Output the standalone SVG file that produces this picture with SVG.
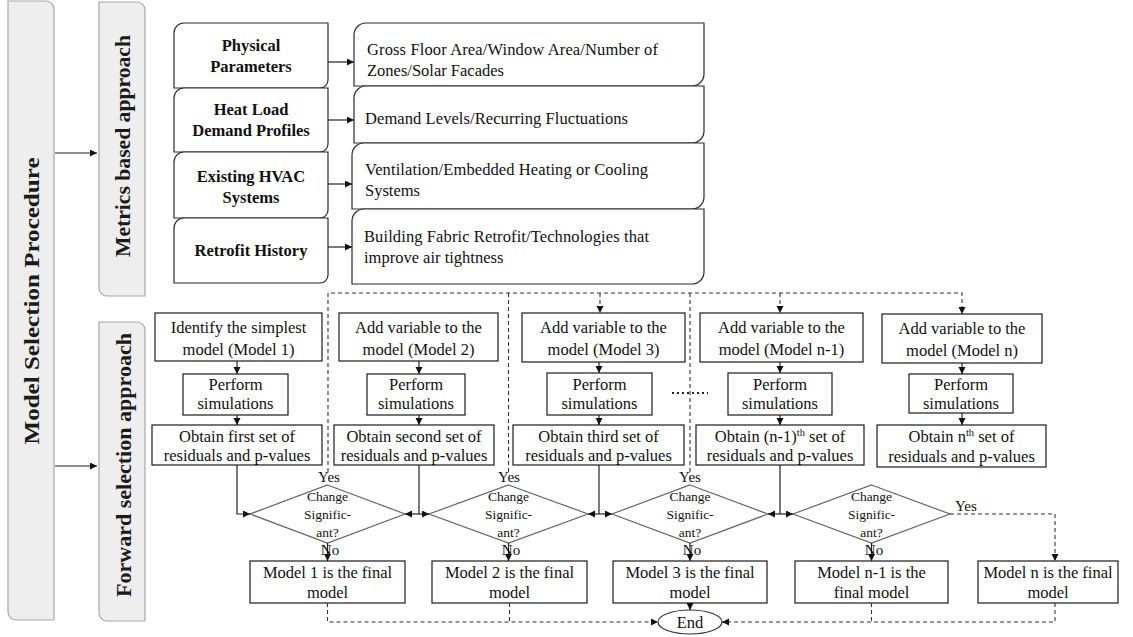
<svg xmlns="http://www.w3.org/2000/svg" width="1133" height="637" viewBox="0 0 1133 637">
<style>
.panel{fill:#eeeeee;stroke:#a8a8a8;stroke-width:1.2}
.box{fill:#fff;stroke:#1a1a1a;stroke-width:1.2}
.rbox{fill:#fff;stroke:#2a2a2a;stroke-width:1.2}
.dia{fill:#fff;stroke:#666;stroke-width:1.2}
.t{font-family:"Liberation Serif","Times New Roman",serif;font-size:16.5px;fill:#111}
.m{text-anchor:middle}
.b{font-weight:bold}
.pt{font-family:"Liberation Serif","Times New Roman",serif;font-weight:bold;font-size:21px;fill:#1a1a1a;text-anchor:middle}
.s{font-size:13.5px}
.yn{font-size:15px}
.c{fill:none;stroke:#222;stroke-width:1.2}
.d{fill:none;stroke:#333;stroke-width:1.1;stroke-dasharray:4 3}
</style>
<defs>
<marker id="ah" markerUnits="userSpaceOnUse" markerWidth="8" markerHeight="8" refX="7" refY="3.5" orient="auto">
<path d="M0,0 L7,3.5 L0,7 Z" fill="#111"/>
</marker>
</defs>

<g id="panel-model-selection">
<path class="panel" d="M8,1 H46 A8,8 0 0 1 54,9 V620 H16 A8,8 0 0 1 8,612 Z"/>
<text class="pt" transform="translate(39,301) rotate(-90)" textLength="287" lengthAdjust="spacingAndGlyphs">Model Selection Procedure</text>
</g>
<g id="panel-metrics">
<path class="panel" d="M99,2 H137 A8,8 0 0 1 145,10 V296 H107 A8,8 0 0 1 99,288 Z"/>
<text class="pt" transform="translate(130,146) rotate(-90)" textLength="222" lengthAdjust="spacingAndGlyphs">Metrics based approach</text>
</g>
<g id="panel-forward">
<path class="panel" d="M99,322 H137 A8,8 0 0 1 145,330 V621 H107 A8,8 0 0 1 99,613 Z"/>
<text class="pt" transform="translate(131,465) rotate(-90)" textLength="264" lengthAdjust="spacingAndGlyphs">Forward selection approach</text>
</g>

<g id="physical-parameters">
<path class="rbox" d="M174,33 A10,10 0 0 1 184,23 H328 V80 A8,8 0 0 1 320,88 H174 Z"/>
<text class="t b m" x="251" y="51">Physical</text>
<text class="t b m" x="251" y="72">Parameters</text>
</g>
<g id="heat-load">
<path class="rbox" d="M174,98 A10,10 0 0 1 184,88 H328 V144 A8,8 0 0 1 320,152 H174 Z"/>
<text class="t b m" x="251" y="115">Heat Load</text>
<text class="t b m" x="251" y="136">Demand Profiles</text>
</g>
<g id="existing-hvac">
<path class="rbox" d="M174,162 A10,10 0 0 1 184,152 H328 V210 A8,8 0 0 1 320,218 H174 Z"/>
<text class="t b m" x="251" y="182">Existing HVAC</text>
<text class="t b m" x="251" y="203">Systems</text>
</g>
<g id="retrofit-history">
<path class="rbox" d="M174,228 A10,10 0 0 1 184,218 H328 V275 A8,8 0 0 1 320,283 H174 Z"/>
<text class="t b m" x="251" y="256">Retrofit History</text>
</g>

<g id="gross-floor-area">
<path class="rbox" d="M354,35 A12,12 0 0 1 366,23 H704 V74 A12,12 0 0 1 692,86 H354 Z"/>
<text class="t" x="367" y="55" textLength="291" lengthAdjust="spacing">Gross Floor Area/Window Area/Number of</text>
<text class="t" x="367" y="76">Zones/Solar Facades</text>
</g>
<g id="demand-levels">
<path class="rbox" d="M354,98 A12,12 0 0 1 366,86 H704 V131 A12,12 0 0 1 692,143 H354 Z"/>
<text class="t" x="365" y="124" textLength="263" lengthAdjust="spacing">Demand Levels/Recurring Fluctuations</text>
</g>
<g id="ventilation">
<path class="rbox" d="M352,155 A12,12 0 0 1 364,143 H704 V197 A12,12 0 0 1 692,209 H352 Z"/>
<text class="t" x="365" y="175" textLength="283" lengthAdjust="spacing">Ventilation/Embedded Heating or Cooling</text>
<text class="t" x="365" y="196">Systems</text>
</g>
<g id="building-fabric">
<path class="rbox" d="M352,221 A12,12 0 0 1 364,209 H704 V272 A12,12 0 0 1 692,284 H352 Z"/>
<text class="t" x="364" y="242" textLength="285" lengthAdjust="spacing">Building Fabric Retrofit/Technologies that</text>
<text class="t" x="364" y="263">improve air tightness</text>
</g>

<!-- Column 1 -->
<g id="add-model-1"><rect class="box" x="155" y="313" width="167" height="48"/>
<text class="t m" x="238.5" y="333">Identify the simplest</text><text class="t m" x="238.5" y="355">model (Model 1)</text></g>
<g id="perform-1"><rect class="box" x="183" y="374" width="105" height="41"/>
<text class="t m" x="235.5" y="390">Perform</text><text class="t m" x="235.5" y="409">simulations</text></g>
<g id="obtain-1"><rect class="box" x="152" y="425" width="170" height="40"/>
<text class="t m" x="237" y="442">Obtain first set of</text><text class="t m" x="237" y="461">residuals and p-values</text></g>

<!-- Column 2 -->
<g id="add-model-2"><rect class="box" x="339" y="313" width="159" height="48"/>
<text class="t m" x="418.5" y="333">Add variable to the</text><text class="t m" x="418.5" y="355">model (Model 2)</text></g>
<g id="perform-2"><rect class="box" x="367" y="374" width="98" height="41"/>
<text class="t m" x="416" y="390">Perform</text><text class="t m" x="416" y="409">simulations</text></g>
<g id="obtain-2"><rect class="box" x="334" y="425" width="160" height="40"/>
<text class="t m" x="414" y="442">Obtain second set of</text><text class="t m" x="414" y="461">residuals and p-values</text></g>

<!-- Column 3 -->
<g id="add-model-3"><rect class="box" x="522" y="313" width="163" height="49"/>
<text class="t m" x="603.5" y="333">Add variable to the</text><text class="t m" x="603.5" y="355">model (Model 3)</text></g>
<g id="perform-3"><rect class="box" x="547" y="373" width="105" height="42"/>
<text class="t m" x="599.5" y="390">Perform</text><text class="t m" x="599.5" y="409">simulations</text></g>
<g id="obtain-3"><rect class="box" x="513" y="425" width="171" height="40"/>
<text class="t m" x="598.5" y="442">Obtain third set of</text><text class="t m" x="598.5" y="461">residuals and p-values</text></g>

<!-- Column 4 -->
<g id="add-model-n-1"><rect class="box" x="700" y="313" width="163" height="49"/>
<text class="t m" x="781.5" y="333">Add variable to the</text><text class="t m" x="781.5" y="355">model (Model n-1)</text></g>
<g id="perform-4"><rect class="box" x="728" y="373" width="104" height="42"/>
<text class="t m" x="780" y="390">Perform</text><text class="t m" x="780" y="409">simulations</text></g>
<g id="obtain-n-1"><rect class="box" x="696" y="425" width="168" height="40"/>
<text class="t m" x="780" y="442">Obtain (n-1)<tspan dy="-6" font-size="10.5">th</tspan><tspan dy="6"> set of</tspan></text><text class="t m" x="780" y="461">residuals and p-values</text></g>

<!-- Column 5 -->
<g id="add-model-n"><rect class="box" x="882" y="314" width="160" height="49"/>
<text class="t m" x="962" y="334">Add variable to the</text><text class="t m" x="962" y="356">model (Model n)</text></g>
<g id="perform-5"><rect class="box" x="909" y="374" width="104" height="39"/>
<text class="t m" x="961" y="390">Perform</text><text class="t m" x="961" y="409">simulations</text></g>
<g id="obtain-n"><rect class="box" x="877" y="425" width="169" height="42"/>
<text class="t m" x="961.5" y="442">Obtain n<tspan dy="-6" font-size="10.5">th</tspan><tspan dy="6"> set of</tspan></text><text class="t m" x="961.5" y="462">residuals and p-values</text></g>

<!-- Diamonds -->
<g id="decision-1"><path class="dia" d="M327.5,485 L405,514 L327.5,543 L250,514 Z"/>
<text class="t m s" x="327.5" y="501">Change</text><text class="t m s" x="327.5" y="519">Signific-</text><text class="t m s" x="327.5" y="537">ant?</text></g>
<g id="decision-2"><path class="dia" d="M508.5,485 L588,514 L508.5,543 L429,514 Z"/>
<text class="t m s" x="508.5" y="501">Change</text><text class="t m s" x="508.5" y="519">Signific-</text><text class="t m s" x="508.5" y="537">ant?</text></g>
<g id="decision-3"><path class="dia" d="M690,485 L768,514 L690,543 L612,514 Z"/>
<text class="t m s" x="690" y="501">Change</text><text class="t m s" x="690" y="519">Signific-</text><text class="t m s" x="690" y="537">ant?</text></g>
<g id="decision-4"><path class="dia" d="M871.5,485 L950,514 L871.5,543 L793,514 Z"/>
<text class="t m s" x="871.5" y="501">Change</text><text class="t m s" x="871.5" y="519">Signific-</text><text class="t m s" x="871.5" y="537">ant?</text></g>

<!-- Final boxes -->
<g id="final-1"><rect class="box" x="250" y="561" width="155" height="42"/>
<text class="t m" x="327.5" y="578">Model 1 is the final</text><text class="t m" x="327.5" y="598">model</text></g>
<g id="final-2"><rect class="box" x="432" y="561" width="155" height="42"/>
<text class="t m" x="509.5" y="578">Model 2 is the final</text><text class="t m" x="509.5" y="598">model</text></g>
<g id="final-3"><rect class="box" x="613" y="561" width="154" height="42"/>
<text class="t m" x="690" y="578">Model 3 is the final</text><text class="t m" x="690" y="598">model</text></g>
<g id="final-n-1"><rect class="box" x="795" y="561" width="153" height="42"/>
<text class="t m" x="871.5" y="578">Model n-1 is the</text><text class="t m" x="871.5" y="598">final model</text></g>
<g id="final-n"><rect class="box" x="978" y="561" width="140" height="42"/>
<text class="t m" x="1048" y="578">Model n is the final</text><text class="t m" x="1048" y="598">model</text></g>

<g id="end"><ellipse cx="690" cy="622" rx="32" ry="12" fill="#fff" stroke="#333" stroke-width="1.2"/>
<text class="t m" x="690" y="628">End</text></g>

<g id="connectors">
<path class="c" d="M55,153 H97" marker-end="url(#ah)"/>
<path class="c" d="M55,466 H97" marker-end="url(#ah)"/>
<path class="c" d="M328,62 H354" marker-end="url(#ah)"/>
<path class="c" d="M328,120 H354" marker-end="url(#ah)"/>
<path class="c" d="M328,184 H352" marker-end="url(#ah)"/>
<path class="c" d="M328,247 H352" marker-end="url(#ah)"/>

<path class="c" d="M237,361 V374" marker-end="url(#ah)"/>
<path class="c" d="M237,415 V425" marker-end="url(#ah)"/>
<path class="c" d="M419,361 V374" marker-end="url(#ah)"/>
<path class="c" d="M419,415 V425" marker-end="url(#ah)"/>
<path class="c" d="M599,362 V373" marker-end="url(#ah)"/>
<path class="c" d="M599,415 V425" marker-end="url(#ah)"/>
<path class="c" d="M780,362 V373" marker-end="url(#ah)"/>
<path class="c" d="M780,415 V425" marker-end="url(#ah)"/>
<path class="c" d="M962,363 V374" marker-end="url(#ah)"/>
<path class="c" d="M962,413 V425" marker-end="url(#ah)"/>

<path class="c" d="M237,465 V514 H250" marker-end="url(#ah)"/>
<path class="c" d="M419,465 V514"/>
<path class="c" d="M419,514 H405" marker-end="url(#ah)"/>
<path class="c" d="M419,514 H429" marker-end="url(#ah)"/>
<path class="c" d="M599,465 V514"/>
<path class="c" d="M599,514 H588" marker-end="url(#ah)"/>
<path class="c" d="M599,514 H612" marker-end="url(#ah)"/>
<path class="c" d="M780,465 V514"/>
<path class="c" d="M780,514 H768" marker-end="url(#ah)"/>
<path class="c" d="M780,514 H793" marker-end="url(#ah)"/>

<path class="c" d="M327.5,543 V561" marker-end="url(#ah)"/>
<path class="c" d="M508.5,543 V561" marker-end="url(#ah)"/>
<path class="c" d="M690,543 V561" marker-end="url(#ah)"/>
<path class="c" d="M871.5,543 V561" marker-end="url(#ah)"/>
<path class="c" d="M690,603 V610" marker-end="url(#ah)"/>

<path class="d" d="M328,472 V293 H962 V314" marker-end="url(#ah)"/>
<path class="d" d="M508.5,472 V293"/>
<path class="d" d="M690,472 V293"/>
<path class="d" d="M600,293 V313" marker-end="url(#ah)"/>
<path class="d" d="M780,293 V313" marker-end="url(#ah)"/>
<path class="d" d="M950,514 H1055 V561" marker-end="url(#ah)"/>

<path class="d" d="M327.5,603 V622 H658" marker-end="url(#ah)"/>
<path class="d" d="M509.5,603 V622"/>
<path class="d" d="M1055,603 V622 H722" marker-end="url(#ah)"/>
<path class="d" d="M871.5,603 V622"/>

<path d="M672,393 H708" fill="none" stroke="#222" stroke-width="2" stroke-dasharray="2 3"/>

<text class="t m yn" x="329" y="482">Yes</text>
<text class="t m yn" x="509" y="482">Yes</text>
<text class="t m yn" x="690" y="482">Yes</text>
<text class="t yn" x="955" y="511">Yes</text>
<text class="t m yn" x="330" y="555">No</text>
<text class="t m yn" x="511" y="555">No</text>
<text class="t m yn" x="692" y="555">No</text>
<text class="t m yn" x="874" y="555">No</text>
</g>
</svg>
